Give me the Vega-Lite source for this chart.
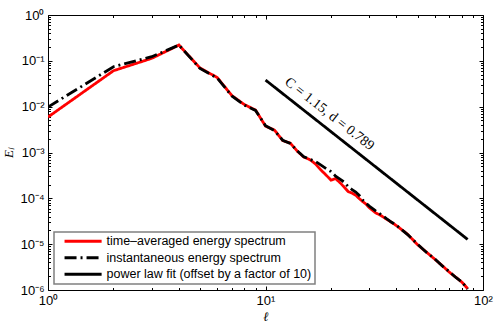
{
  "$schema": "https://vega.github.io/schema/vega-lite/v6.json",
  "width": 435,
  "height": 275,
  "autosize": "none",
  "padding": {"left": 48, "top": 15, "right": 15, "bottom": 37},
  "config": {
    "view": {"stroke": null},
    "axis": {"grid": false, "labelFont": "Liberation Sans", "labelFontSize": 13, "labelColor": "black", "tickColor": "black", "domainColor": "black", "domainWidth": 1, "tickWidth": 1, "labelFlush": false, "labelOverlap": false},
    "legend": {"strokeColor": "#808080", "strokeWidth": 1.5, "fillColor": "white"}
  },
  "data": {
    "values": [
      {"s": "avg", "l": 1, "E": 0.00593}, {"s": "avg", "l": 2, "E": 0.0608}, {"s": "avg", "l": 3, "E": 0.1135}, {"s": "avg", "l": 4, "E": 0.221},
      {"s": "avg", "l": 5, "E": 0.0696}, {"s": "avg", "l": 6, "E": 0.0432}, {"s": "avg", "l": 7, "E": 0.0175}, {"s": "avg", "l": 8, "E": 0.0111},
      {"s": "avg", "l": 9, "E": 0.00843}, {"s": "avg", "l": 10, "E": 0.00377}, {"s": "avg", "l": 11, "E": 0.00308}, {"s": "avg", "l": 12, "E": 0.00182},
      {"s": "avg", "l": 13, "E": 0.0016}, {"s": "avg", "l": 14, "E": 0.00107}, {"s": "avg", "l": 15, "E": 0.000794}, {"s": "avg", "l": 16, "E": 0.0007},
      {"s": "avg", "l": 17, "E": 0.000558}, {"s": "avg", "l": 18, "E": 0.000413}, {"s": "avg", "l": 19, "E": 0.000321}, {"s": "avg", "l": 20, "E": 0.00025},
      {"s": "avg", "l": 21, "E": 0.000269}, {"s": "avg", "l": 22, "E": 0.00022}, {"s": "avg", "l": 23, "E": 0.000176}, {"s": "avg", "l": 24, "E": 0.00014},
      {"s": "avg", "l": 25, "E": 0.00013}, {"s": "avg", "l": 26, "E": 0.000117}, {"s": "avg", "l": 27, "E": 0.0000985}, {"s": "avg", "l": 28, "E": 0.0000847},
      {"s": "avg", "l": 29, "E": 0.0000747}, {"s": "avg", "l": 30, "E": 0.0000626}, {"s": "avg", "l": 32, "E": 0.0000488}, {"s": "avg", "l": 34, "E": 0.0000419},
      {"s": "avg", "l": 36, "E": 0.0000351}, {"s": "avg", "l": 38, "E": 0.0000298}, {"s": "avg", "l": 40, "E": 0.0000254}, {"s": "avg", "l": 45, "E": 0.0000165},
      {"s": "avg", "l": 50, "E": 0.00000975}, {"s": "avg", "l": 55, "E": 0.00000669}, {"s": "avg", "l": 60, "E": 0.0000047}, {"s": "avg", "l": 65, "E": 0.00000339},
      {"s": "avg", "l": 70, "E": 0.00000245}, {"s": "avg", "l": 75, "E": 0.0000019}, {"s": "avg", "l": 80, "E": 0.00000148}, {"s": "avg", "l": 85, "E": 0.00000107},
      {"s": "inst", "l": 1, "E": 0.0098}, {"s": "inst", "l": 2, "E": 0.0743}, {"s": "inst", "l": 3, "E": 0.123}, {"s": "inst", "l": 4, "E": 0.221},
      {"s": "inst", "l": 5, "E": 0.068}, {"s": "inst", "l": 6, "E": 0.042}, {"s": "inst", "l": 7, "E": 0.0172}, {"s": "inst", "l": 8, "E": 0.0108},
      {"s": "inst", "l": 9, "E": 0.0083}, {"s": "inst", "l": 10, "E": 0.00385}, {"s": "inst", "l": 11, "E": 0.003}, {"s": "inst", "l": 12, "E": 0.00185},
      {"s": "inst", "l": 13, "E": 0.00158}, {"s": "inst", "l": 14, "E": 0.00109}, {"s": "inst", "l": 15, "E": 0.00081}, {"s": "inst", "l": 16, "E": 0.00071},
      {"s": "inst", "l": 17, "E": 0.000633}, {"s": "inst", "l": 18, "E": 0.000531}, {"s": "inst", "l": 19, "E": 0.000445}, {"s": "inst", "l": 20, "E": 0.000383},
      {"s": "inst", "l": 21, "E": 0.000305}, {"s": "inst", "l": 22, "E": 0.000262}, {"s": "inst", "l": 23, "E": 0.000226}, {"s": "inst", "l": 24, "E": 0.00018},
      {"s": "inst", "l": 25, "E": 0.000155}, {"s": "inst", "l": 26, "E": 0.000137}, {"s": "inst", "l": 27, "E": 0.000115}, {"s": "inst", "l": 28, "E": 0.0000914},
      {"s": "inst", "l": 29, "E": 0.0000786}, {"s": "inst", "l": 30, "E": 0.0000676}, {"s": "inst", "l": 32, "E": 0.0000538}, {"s": "inst", "l": 34, "E": 0.0000441},
      {"s": "inst", "l": 36, "E": 0.000036}, {"s": "inst", "l": 38, "E": 0.00003}, {"s": "inst", "l": 40, "E": 0.0000258}, {"s": "inst", "l": 45, "E": 0.0000162},
      {"s": "inst", "l": 50, "E": 0.00001}, {"s": "inst", "l": 55, "E": 0.0000066}, {"s": "inst", "l": 60, "E": 0.0000048}, {"s": "inst", "l": 65, "E": 0.00000335},
      {"s": "inst", "l": 70, "E": 0.0000025}, {"s": "inst", "l": 75, "E": 0.00000188}, {"s": "inst", "l": 80, "E": 0.0000015}, {"s": "inst", "l": 85, "E": 0.00000105},
      {"s": "fit", "l": 10, "E": 0.0381}, {"s": "fit", "l": 85, "E": 0.0000127}
    ]
  },
  "layer": [
    {
      "mark": {"type": "line", "strokeWidth": 2.8, "clip": true},
      "encoding": {
        "x": {"field": "l", "type": "quantitative", "scale": {"type": "log", "domain": [1, 100], "nice": false},
          "axis": {"orient": "bottom", "values": [1, 10, 100], "ticks": false, "domain": true, "labelPadding": 4,
            "labelExpr": "datum.value >= 50 ? '10²' : datum.value >= 5 ? '10¹' : '10⁰'",
            "title": "ℓ", "titleFont": "Liberation Serif", "titleFontStyle": "italic", "titleFontWeight": "normal", "titleFontSize": 13, "titlePadding": 3}},
        "y": {"field": "E", "type": "quantitative", "scale": {"type": "log", "domain": [0.000001, 1], "nice": false},
          "axis": {"orient": "left", "values": [0.000001, 0.00001, 0.0001, 0.001, 0.01, 0.1, 1], "ticks": false, "domain": true, "labelPadding": 4,
            "labelExpr": "datum.value >= 0.5 ? '10⁰' : datum.value >= 0.05 ? '10⁻¹' : datum.value >= 0.005 ? '10⁻²' : datum.value >= 0.0005 ? '10⁻³' : datum.value >= 0.00005 ? '10⁻⁴' : datum.value >= 0.000005 ? '10⁻⁵' : '10⁻⁶'",
            "title": "Eₗ", "titleFont": "Liberation Serif", "titleFontStyle": "italic", "titleFontWeight": "normal", "titleFontSize": 13, "titlePadding": 4}},
        "color": {"field": "s", "type": "nominal", "scale": {"domain": ["avg", "inst", "fit"], "range": ["#ff0000", "#000000", "#000000"]},
          "legend": {"title": null, "orient": "bottom-left", "offset": 6, "padding": 3, "symbolOffset": 5, "symbolType": "M-1,0H9", "symbolSize": 55, "symbolStrokeWidth": 3,
            "labelFont": "Liberation Sans", "labelFontSize": 12.5, "labelOffset": 32, "rowPadding": 3.5, "labelLimit": 0,
            "labelExpr": "datum.label == 'avg' ? 'time–averaged energy spectrum' : datum.label == 'inst' ? 'instantaneous energy spectrum' : 'power law fit (offset by a factor of 10)'"}},
        "strokeDash": {"field": "s", "type": "nominal", "scale": {"domain": ["avg", "inst", "fit"], "range": [[1, 0], [12, 4, 2, 4], [1, 0]]},
          "legend": {"title": null, "orient": "bottom-left", "offset": 6, "padding": 3, "symbolOffset": 5, "symbolType": "M-1,0H9", "symbolSize": 55, "symbolStrokeWidth": 3,
            "labelFont": "Liberation Sans", "labelFontSize": 12.5, "labelOffset": 32, "rowPadding": 3.5, "labelLimit": 0,
            "labelExpr": "datum.label == 'avg' ? 'time–averaged energy spectrum' : datum.label == 'inst' ? 'instantaneous energy spectrum' : 'power law fit (offset by a factor of 10)'"}}
      }
    },
    {
      "mark": {"type": "point", "opacity": 0},
      "encoding": {
        "x": {"field": "l", "type": "quantitative", "scale": {"type": "log", "domain": [1, 100], "nice": false},
          "axis": {"orient": "bottom", "values": [1, 10, 100], "labels": false, "domain": false, "tickSize": -4, "title": null}},
        "y": {"field": "E", "type": "quantitative", "scale": {"type": "log", "domain": [0.000001, 1], "nice": false},
          "axis": {"orient": "left", "values": [0.000001, 0.00001, 0.0001, 0.001, 0.01, 0.1, 1], "labels": false, "domain": false, "tickSize": -4, "title": null}}
      }
    },
    {
      "mark": {"type": "point", "opacity": 0},
      "encoding": {
        "x": {"field": "l", "type": "quantitative", "scale": {"type": "log", "domain": [1, 100], "nice": false},
          "axis": {"orient": "bottom", "values": [2, 3, 4, 5, 6, 7, 8, 9, 20, 30, 40, 50, 60, 70, 80, 90], "labels": false, "domain": false, "tickSize": -2.5, "title": null}},
        "y": {"field": "E", "type": "quantitative", "scale": {"type": "log", "domain": [0.000001, 1], "nice": false},
          "axis": {"orient": "left", "values": [0.000002, 0.000003, 0.000004, 0.000005, 0.000006, 0.000007, 0.000008, 0.000009, 0.00002, 0.00003, 0.00004, 0.00005, 0.00006, 0.00007, 0.00008, 0.00009, 0.0002, 0.0003, 0.0004, 0.0005, 0.0006, 0.0007, 0.0008, 0.0009, 0.002, 0.003, 0.004, 0.005, 0.006, 0.007, 0.008, 0.009, 0.02, 0.03, 0.04, 0.05, 0.06, 0.07, 0.08, 0.09, 0.2, 0.3, 0.4, 0.5, 0.6, 0.7, 0.8, 0.9], "labels": false, "domain": false, "tickSize": -2.5, "title": null}}
      }
    },
    {
      "mark": {"type": "point", "opacity": 0},
      "encoding": {
        "x": {"field": "l", "type": "quantitative", "scale": {"type": "log", "domain": [1, 100], "nice": false},
          "axis": {"orient": "top", "values": [1, 10, 100], "labels": false, "domain": true, "tickSize": -4, "title": null}},
        "y": {"field": "E", "type": "quantitative", "scale": {"type": "log", "domain": [0.000001, 1], "nice": false},
          "axis": {"orient": "right", "values": [0.000001, 0.00001, 0.0001, 0.001, 0.01, 0.1, 1], "labels": false, "domain": true, "tickSize": -4, "title": null}}
      }
    },
    {
      "mark": {"type": "point", "opacity": 0},
      "encoding": {
        "x": {"field": "l", "type": "quantitative", "scale": {"type": "log", "domain": [1, 100], "nice": false},
          "axis": {"orient": "top", "values": [2, 3, 4, 5, 6, 7, 8, 9, 20, 30, 40, 50, 60, 70, 80, 90], "labels": false, "domain": false, "tickSize": -2.5, "title": null}},
        "y": {"field": "E", "type": "quantitative", "scale": {"type": "log", "domain": [0.000001, 1], "nice": false},
          "axis": {"orient": "right", "values": [0.000002, 0.000003, 0.000004, 0.000005, 0.000006, 0.000007, 0.000008, 0.000009, 0.00002, 0.00003, 0.00004, 0.00005, 0.00006, 0.00007, 0.00008, 0.00009, 0.0002, 0.0003, 0.0004, 0.0005, 0.0006, 0.0007, 0.0008, 0.0009, 0.002, 0.003, 0.004, 0.005, 0.006, 0.007, 0.008, 0.009, 0.02, 0.03, 0.04, 0.05, 0.06, 0.07, 0.08, 0.09, 0.2, 0.3, 0.4, 0.5, 0.6, 0.7, 0.8, 0.9], "labels": false, "domain": false, "tickSize": -2.5, "title": null}}
      }
    },
    {
      "data": {"values": [{"l": 19.7, "E": 0.0069, "t": "C = 1.15, d = 0.789"}]},
      "mark": {"type": "text", "angle": 38, "font": "Liberation Serif", "fontSize": 14, "color": "black"},
      "encoding": {
        "x": {"field": "l", "type": "quantitative", "scale": {"type": "log", "domain": [1, 100], "nice": false}, "axis": null},
        "y": {"field": "E", "type": "quantitative", "scale": {"type": "log", "domain": [0.000001, 1], "nice": false}, "axis": null},
        "text": {"field": "t"}
      }
    }
  ],
  "resolve": {"axis": {"x": "independent", "y": "independent"}}
}
